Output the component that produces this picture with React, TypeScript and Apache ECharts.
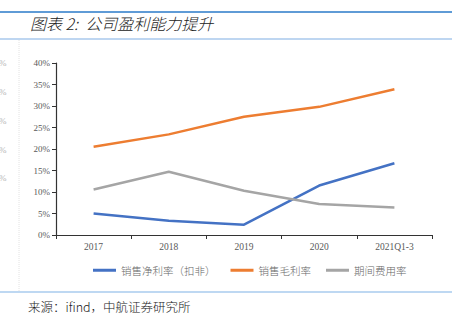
import React, { useEffect, useRef } from "react";
import * as echarts from "echarts";

const categories = ["2017", "2018", "2019", "2020", "2021Q1-3"];
const netMargin = [5.0, 3.3, 2.4, 11.5, 16.7];
const grossMargin = [20.5, 23.4, 27.5, 29.8, 33.9];
const expenseRate = [10.6, 14.7, 10.3, 7.2, 6.4];
const seriesNames = ["销售净利率（扣非）", "销售毛利率", "期间费用率"];
const ghostTicks = [63, 92, 121, 150, 178];

export default function App() {
  const ref = useRef<HTMLDivElement>(null);
  useEffect(() => {
    const chart = echarts.init(ref.current!, null, { renderer: "svg" });
    const serif = "Liberation Serif";
    const cjk = "Noto Sans CJK SC";
    chart.setOption({
      animation: false,
      backgroundColor: "#ffffff",
      grid: { left: 56, right: 37, top: 63, bottom: 86, containLabel: false },
      xAxis: {
        type: "category",
        data: categories,
        boundaryGap: true,
        axisLine: { lineStyle: { color: "#333333", width: 1.2 } },
        axisTick: { show: true, length: 4, lineStyle: { color: "#333333" } },
        axisLabel: { color: "#595959", fontFamily: serif, fontSize: 9.5, margin: 7 },
      },
      yAxis: {
        type: "value",
        min: 0,
        max: 40,
        interval: 5,
        axisLine: { show: true, lineStyle: { color: "#333333", width: 1.2 } },
        axisTick: { show: true, length: 4, lineStyle: { color: "#333333" } },
        splitLine: { show: false },
        axisLabel: { color: "#595959", fontFamily: serif, fontSize: 9, margin: 6, formatter: "{value}%" },
      },
      legend: {
        left: 88,
        top: 260,
        icon: "rect",
        itemWidth: 23,
        itemHeight: 3,
        itemGap: 15,
        textStyle: { color: "#666666", fontFamily: cjk, fontSize: 10.5, fontWeight: 300 },
        data: seriesNames,
      },
      series: [
        { name: seriesNames[0], type: "line", data: netMargin, symbol: "none", lineStyle: { color: "#4472c4", width: 2.5 }, itemStyle: { color: "#4472c4" } },
        { name: seriesNames[1], type: "line", data: grossMargin, symbol: "none", lineStyle: { color: "#ed7d31", width: 2.5 }, itemStyle: { color: "#ed7d31" } },
        { name: seriesNames[2], type: "line", data: expenseRate, symbol: "none", lineStyle: { color: "#a5a5a5", width: 2.5 }, itemStyle: { color: "#a5a5a5" } },
      ],
      graphic: [
        { type: "line", shape: { x1: 0, y1: 12, x2: 452, y2: 12 }, style: { stroke: "#5f9bd6", lineWidth: 2 } },
        { type: "line", shape: { x1: 0, y1: 39, x2: 452, y2: 39 }, style: { stroke: "#a9c9ec", lineWidth: 1.5 } },
        { type: "line", shape: { x1: 0, y1: 292, x2: 452, y2: 292 }, style: { stroke: "#7fb2e5", lineWidth: 1.2 } },
        { type: "line", shape: { x1: 19, y1: 40, x2: 19, y2: 291 }, style: { stroke: "#e2e2e2", lineWidth: 1, lineDash: [1, 1] } },
        {
          type: "text",
          x: 30,
          y: 23,
          style: { text: "图表 2:  公司盈利能力提升", font: `italic 300 16px "${cjk}"`, fill: "#222222", verticalAlign: "middle" },
        },
        {
          type: "text",
          x: 28,
          y: 306,
          style: { text: "来源：ifind，中航证券研究所", font: `300 12.5px "${cjk}"`, fill: "#222222", verticalAlign: "middle" },
        },
        ...ghostTicks.map((y) => ({
          type: "text",
          x: -1,
          y,
          style: { text: "%", font: `9px "${serif}"`, fill: "#b5b5b5", verticalAlign: "middle" },
        })),
      ],
    });
    return () => chart.dispose();
  }, []);
  return (
    <div
      ref={ref}
      style={{ position: "fixed", left: 0, top: 0, width: 469, height: 321 }}
    />
  );
}
